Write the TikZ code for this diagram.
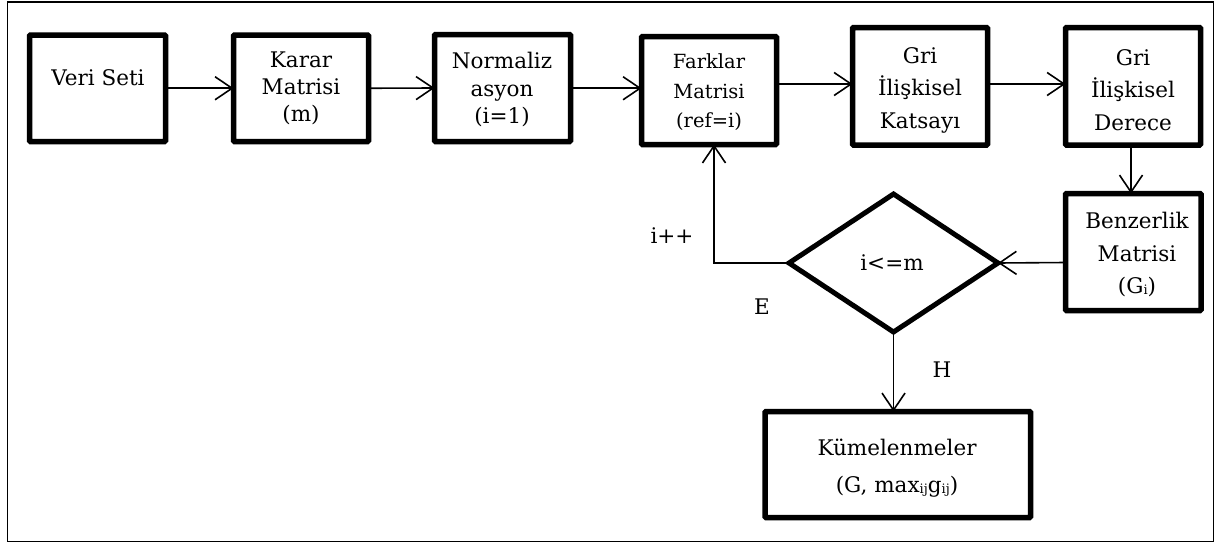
\documentclass[tikz,border=0pt]{standalone}
\usepackage{fontspec}
\setmainfont{DejaVu Serif}
\usetikzlibrary{arrows.meta,shapes.geometric}
\tikzset{
  stepbox/.style={draw,line width=5.5pt,rounded corners=1pt,inner sep=0pt,outer sep=0pt},
  lbl/.style={align=center,inner sep=0pt,font=\fontsize{21.5}{27}\selectfont},
  arr/.style={line width=1.6pt,-{Straight Barb[length=17pt,width=23pt]}},
}
\newcommand{\subx}[1]{\raisebox{-1pt}{\fontsize{13}{13}\selectfont #1}}
\begin{document}
\begin{tikzpicture}[x=1pt,y=-1pt]
\useasboundingbox (0,0) rectangle (1217,554);
\draw[line width=1.8pt] (7.5,2) rectangle (1213.5,541.5);
% boxes
\node[stepbox,minimum width=136pt,minimum height=106.5pt] (v) at (97.5,88.25) {};
\node[stepbox,minimum width=135pt,minimum height=106.5pt] (k) at (301,88.25) {};
\node[stepbox,minimum width=136pt,minimum height=107pt] (n) at (502.5,88) {};
\node[stepbox,minimum width=135pt,minimum height=108pt] (f) at (709,90.5) {};
\node[stepbox,minimum width=135pt,minimum height=117.5pt] (ks) at (920,86.25) {};
\node[stepbox,minimum width=135pt,minimum height=117.5pt] (d) at (1133,86.25) {};
\node[stepbox,minimum width=135.5pt,minimum height=117pt] (b) at (1133.25,252) {};
\node[stepbox,minimum width=265.5pt,minimum height=106pt] (km) at (897.75,464.5) {};
\node[draw,diamond,line width=5pt,minimum width=209pt,minimum height=138pt,inner sep=0pt,outer sep=0pt] (q) at (893.5,263) {};
% texts
\node[lbl] (tv) at (98,78) {Veri Seti};
\node[lbl] (tk) at (301,88.5) {Karar\\Matrisi\\(m)};
\node[lbl,font=\fontsize{21.5}{27.5}\selectfont] (tn) at (502,90) {Normaliz\\asyon\\(i=1)};
\node[lbl,font=\fontsize{19.5}{29.5}\selectfont] (tf) at (709,92.5) {Farklar\\Matrisi\\(ref=i)};
\node[lbl,font=\fontsize{21.5}{32.5}\selectfont] (tks) at (920,90) {Gri\\İlişkisel\\Katsayı};
\node[lbl,font=\fontsize{21.5}{32.5}\selectfont] (td) at (1133,90) {Gri\\İlişkisel\\Derece};
\node[lbl,font=\fontsize{21.5}{32.5}\selectfont] (tb) at (1137,255) {Benzerlik\\Matrisi\\(G\subx{i})};
\node[lbl,font=\fontsize{21.5}{37}\selectfont] (tkm) at (897,468) {Kümelenmeler\\(G, max\subx{ij}g\subx{ij})};
\node[lbl] (tq) at (892,263) {i<=m};
\node[lbl] (ti) at (672,236) {i++};
\node[lbl] (te) at (762,307) {E};
\node[lbl] (th) at (942,370) {H};
% connectors
\coordinate (ya) at (0,84);
\coordinate (yb) at (0,262.5);
\coordinate (xl) at (714,0);
\draw[arr] (v.east) -- (k.west);
\draw[arr] (k.east) -- (n.west);
\draw[arr] (n.east |- v.east) -- (f.west |- v.east);
\draw[arr] (f.east |- ya) -- (ks.west |- ya);
\draw[arr] (ks.east |- ya) -- (d.west |- ya);
\draw[arr] (d.south -| 1131,0) -- (b.north -| 1131,0);
\draw[arr] (b.west |- yb) -- (q.east);
\draw[arr] (q.west) -- (xl |- q.west) -- (xl |- f.south);
\draw[arr] (q.south) -- (q.south |- km.north);
\end{tikzpicture}
\end{document}
